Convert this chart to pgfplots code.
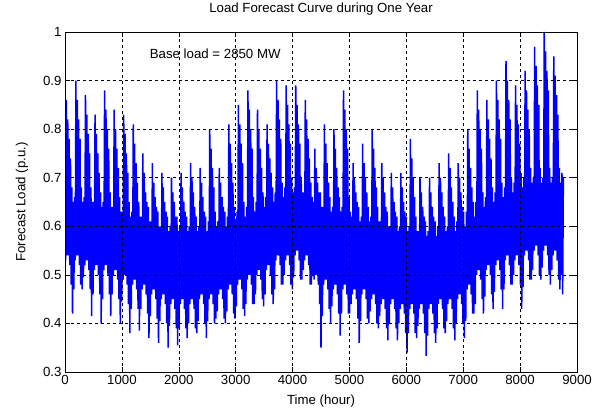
\documentclass[border=0pt]{standalone}
\usepackage{pgfplots}
\pgfplotsset{compat=1.18}
\usepackage{fontspec}
\setmainfont{Liberation Sans}
\begin{document}
\begin{tikzpicture}
\begin{axis}[
    width=512bp, height=340bp, scale only axis,
    xmin=0, xmax=9000, ymin=0.3, ymax=1,
    xtick={0,1000,...,9000},
    ytick={0.3,0.4,0.5,0.6,0.7,0.8,0.9,1},
    scaled ticks=false,
    /pgf/number format/1000 sep={},
    /pgf/number format/assume math mode=true,
    tick label style={font=\fontsize{13.3}{15}\selectfont},
    label style={font=\fontsize{13.3}{15}\selectfont},
    title style={font=\fontsize{13.3}{15}\selectfont, at={(axis description cs:0.5,1.05)}, anchor=center, yshift=0pt},
    xlabel style={at={(axis description cs:0.5,-0.085)}, anchor=center},
    ylabel style={at={(axis description cs:-0.084,0.5)}, anchor=center},
    title={Load Forecast Curve during One Year},
    xlabel={Time (hour)},
    ylabel={Forecast Load (p.u.)},
    tick align=inside, major tick length=5bp,
    tick style={black, line width=0.5bp},
    axis line style={line width=0.6bp},
    grid=major,
    major grid style={black, line width=0.5bp, dash pattern=on 3bp off 3bp},
    axis on top]
% one week per line: daily high and low, a sample every 12 hours
\addplot[blue, line width=1.5bp, no markers] table[header=false, row sep=\\, x expr=\coordindex*12, y index=0] {
0.66\\ 0.53\\ 0.86\\ 0.54\\ 0.82\\ 0.54\\ 0.78\\ 0.52\\ 0.74\\ 0.48\\ 0.68\\ 0.42\\ 0.65\\ 0.47\\
0.66\\ 0.53\\ 0.90\\ 0.54\\ 0.86\\ 0.54\\ 0.82\\ 0.52\\ 0.78\\ 0.48\\ 0.68\\ 0.47\\ 0.65\\ 0.495\\
0.66\\ 0.52\\ 0.87\\ 0.53\\ 0.83\\ 0.53\\ 0.79\\ 0.51\\ 0.75\\ 0.47\\ 0.68\\ 0.415\\ 0.65\\ 0.46\\
0.65\\ 0.51\\ 0.83\\ 0.52\\ 0.79\\ 0.52\\ 0.75\\ 0.50\\ 0.71\\ 0.46\\ 0.67\\ 0.40\\ 0.64\\ 0.45\\
0.65\\ 0.51\\ 0.88\\ 0.52\\ 0.84\\ 0.52\\ 0.80\\ 0.50\\ 0.76\\ 0.46\\ 0.67\\ 0.415\\ 0.64\\ 0.46\\
0.64\\ 0.50\\ 0.84\\ 0.51\\ 0.80\\ 0.51\\ 0.76\\ 0.49\\ 0.72\\ 0.45\\ 0.66\\ 0.40\\ 0.63\\ 0.445\\
0.63\\ 0.49\\ 0.83\\ 0.50\\ 0.79\\ 0.50\\ 0.75\\ 0.48\\ 0.71\\ 0.44\\ 0.65\\ 0.38\\ 0.62\\ 0.43\\
0.63\\ 0.48\\ 0.81\\ 0.49\\ 0.77\\ 0.49\\ 0.73\\ 0.47\\ 0.69\\ 0.43\\ 0.65\\ 0.385\\ 0.62\\ 0.43\\
0.62\\ 0.47\\ 0.75\\ 0.48\\ 0.71\\ 0.48\\ 0.67\\ 0.46\\ 0.65\\ 0.42\\ 0.64\\ 0.37\\ 0.61\\ 0.415\\
0.61\\ 0.46\\ 0.73\\ 0.47\\ 0.69\\ 0.47\\ 0.66\\ 0.45\\ 0.64\\ 0.41\\ 0.63\\ 0.36\\ 0.60\\ 0.405\\
0.60\\ 0.45\\ 0.71\\ 0.46\\ 0.68\\ 0.46\\ 0.65\\ 0.44\\ 0.63\\ 0.40\\ 0.62\\ 0.35\\ 0.59\\ 0.395\\
0.60\\ 0.44\\ 0.70\\ 0.45\\ 0.67\\ 0.45\\ 0.65\\ 0.43\\ 0.62\\ 0.39\\ 0.62\\ 0.355\\ 0.59\\ 0.39\\
0.60\\ 0.44\\ 0.71\\ 0.45\\ 0.68\\ 0.45\\ 0.65\\ 0.43\\ 0.63\\ 0.39\\ 0.62\\ 0.37\\ 0.59\\ 0.40\\
0.60\\ 0.44\\ 0.73\\ 0.45\\ 0.70\\ 0.45\\ 0.67\\ 0.43\\ 0.64\\ 0.39\\ 0.62\\ 0.38\\ 0.59\\ 0.405\\
0.60\\ 0.45\\ 0.72\\ 0.46\\ 0.69\\ 0.46\\ 0.66\\ 0.44\\ 0.63\\ 0.40\\ 0.62\\ 0.37\\ 0.59\\ 0.405\\
0.61\\ 0.45\\ 0.80\\ 0.46\\ 0.76\\ 0.46\\ 0.72\\ 0.44\\ 0.68\\ 0.40\\ 0.63\\ 0.41\\ 0.60\\ 0.425\\
0.61\\ 0.46\\ 0.72\\ 0.47\\ 0.69\\ 0.47\\ 0.66\\ 0.45\\ 0.64\\ 0.41\\ 0.63\\ 0.40\\ 0.60\\ 0.425\\
0.62\\ 0.47\\ 0.81\\ 0.48\\ 0.77\\ 0.48\\ 0.73\\ 0.46\\ 0.69\\ 0.42\\ 0.64\\ 0.41\\ 0.61\\ 0.435\\
0.63\\ 0.48\\ 0.85\\ 0.49\\ 0.81\\ 0.49\\ 0.77\\ 0.47\\ 0.73\\ 0.43\\ 0.65\\ 0.415\\ 0.62\\ 0.44\\
0.64\\ 0.49\\ 0.88\\ 0.50\\ 0.84\\ 0.50\\ 0.80\\ 0.48\\ 0.76\\ 0.44\\ 0.66\\ 0.44\\ 0.63\\ 0.46\\
0.65\\ 0.50\\ 0.84\\ 0.51\\ 0.80\\ 0.51\\ 0.76\\ 0.49\\ 0.72\\ 0.45\\ 0.67\\ 0.435\\ 0.64\\ 0.46\\
0.66\\ 0.51\\ 0.81\\ 0.52\\ 0.77\\ 0.52\\ 0.74\\ 0.50\\ 0.71\\ 0.46\\ 0.68\\ 0.44\\ 0.65\\ 0.47\\
0.67\\ 0.53\\ 0.90\\ 0.54\\ 0.86\\ 0.54\\ 0.82\\ 0.52\\ 0.78\\ 0.48\\ 0.69\\ 0.48\\ 0.66\\ 0.50\\
0.68\\ 0.53\\ 0.89\\ 0.54\\ 0.85\\ 0.54\\ 0.81\\ 0.52\\ 0.77\\ 0.48\\ 0.70\\ 0.47\\ 0.67\\ 0.495\\
0.68\\ 0.54\\ 0.89\\ 0.55\\ 0.85\\ 0.55\\ 0.81\\ 0.53\\ 0.77\\ 0.49\\ 0.70\\ 0.49\\ 0.67\\ 0.51\\
0.67\\ 0.53\\ 0.86\\ 0.54\\ 0.82\\ 0.54\\ 0.78\\ 0.52\\ 0.74\\ 0.48\\ 0.69\\ 0.48\\ 0.66\\ 0.50\\
0.65\\ 0.49\\ 0.76\\ 0.50\\ 0.72\\ 0.50\\ 0.69\\ 0.48\\ 0.67\\ 0.44\\ 0.67\\ 0.35\\ 0.64\\ 0.415\\
0.64\\ 0.48\\ 0.81\\ 0.49\\ 0.77\\ 0.49\\ 0.73\\ 0.47\\ 0.69\\ 0.43\\ 0.66\\ 0.40\\ 0.63\\ 0.435\\
0.64\\ 0.47\\ 0.80\\ 0.48\\ 0.76\\ 0.48\\ 0.72\\ 0.46\\ 0.68\\ 0.42\\ 0.66\\ 0.375\\ 0.63\\ 0.42\\
0.64\\ 0.47\\ 0.88\\ 0.48\\ 0.84\\ 0.48\\ 0.80\\ 0.46\\ 0.76\\ 0.42\\ 0.66\\ 0.42\\ 0.63\\ 0.44\\
0.62\\ 0.46\\ 0.73\\ 0.47\\ 0.70\\ 0.47\\ 0.67\\ 0.45\\ 0.65\\ 0.41\\ 0.64\\ 0.36\\ 0.61\\ 0.405\\
0.62\\ 0.46\\ 0.77\\ 0.47\\ 0.73\\ 0.47\\ 0.70\\ 0.45\\ 0.67\\ 0.41\\ 0.64\\ 0.40\\ 0.61\\ 0.425\\
0.62\\ 0.45\\ 0.80\\ 0.46\\ 0.76\\ 0.46\\ 0.72\\ 0.44\\ 0.68\\ 0.40\\ 0.64\\ 0.39\\ 0.61\\ 0.415\\
0.61\\ 0.44\\ 0.73\\ 0.45\\ 0.70\\ 0.45\\ 0.67\\ 0.43\\ 0.64\\ 0.39\\ 0.63\\ 0.365\\ 0.60\\ 0.40\\
0.60\\ 0.44\\ 0.71\\ 0.45\\ 0.68\\ 0.45\\ 0.65\\ 0.43\\ 0.63\\ 0.39\\ 0.62\\ 0.365\\ 0.59\\ 0.40\\
0.60\\ 0.43\\ 0.71\\ 0.44\\ 0.68\\ 0.44\\ 0.65\\ 0.42\\ 0.63\\ 0.38\\ 0.62\\ 0.34\\ 0.59\\ 0.38\\
0.60\\ 0.43\\ 0.78\\ 0.44\\ 0.74\\ 0.44\\ 0.70\\ 0.42\\ 0.66\\ 0.38\\ 0.62\\ 0.37\\ 0.59\\ 0.395\\
0.59\\ 0.43\\ 0.70\\ 0.44\\ 0.67\\ 0.44\\ 0.64\\ 0.42\\ 0.62\\ 0.38\\ 0.61\\ 0.333\\ 0.58\\ 0.375\\
0.59\\ 0.43\\ 0.70\\ 0.44\\ 0.67\\ 0.44\\ 0.64\\ 0.42\\ 0.62\\ 0.38\\ 0.61\\ 0.36\\ 0.58\\ 0.39\\
0.60\\ 0.44\\ 0.73\\ 0.45\\ 0.70\\ 0.45\\ 0.67\\ 0.43\\ 0.64\\ 0.39\\ 0.62\\ 0.38\\ 0.59\\ 0.405\\
0.60\\ 0.44\\ 0.75\\ 0.45\\ 0.72\\ 0.45\\ 0.68\\ 0.43\\ 0.65\\ 0.39\\ 0.62\\ 0.365\\ 0.59\\ 0.40\\
0.61\\ 0.45\\ 0.73\\ 0.46\\ 0.70\\ 0.46\\ 0.67\\ 0.44\\ 0.64\\ 0.40\\ 0.63\\ 0.37\\ 0.60\\ 0.405\\
0.63\\ 0.47\\ 0.80\\ 0.48\\ 0.76\\ 0.48\\ 0.72\\ 0.46\\ 0.68\\ 0.42\\ 0.65\\ 0.42\\ 0.62\\ 0.44\\
0.65\\ 0.50\\ 0.88\\ 0.51\\ 0.84\\ 0.51\\ 0.80\\ 0.49\\ 0.76\\ 0.45\\ 0.67\\ 0.42\\ 0.64\\ 0.455\\
0.66\\ 0.51\\ 0.86\\ 0.52\\ 0.82\\ 0.52\\ 0.78\\ 0.50\\ 0.74\\ 0.46\\ 0.68\\ 0.43\\ 0.65\\ 0.465\\
0.67\\ 0.52\\ 0.90\\ 0.53\\ 0.86\\ 0.53\\ 0.82\\ 0.51\\ 0.78\\ 0.47\\ 0.69\\ 0.43\\ 0.66\\ 0.47\\
0.68\\ 0.53\\ 0.94\\ 0.54\\ 0.90\\ 0.54\\ 0.86\\ 0.52\\ 0.82\\ 0.48\\ 0.70\\ 0.48\\ 0.67\\ 0.50\\
0.69\\ 0.53\\ 0.89\\ 0.54\\ 0.85\\ 0.54\\ 0.81\\ 0.52\\ 0.77\\ 0.48\\ 0.71\\ 0.43\\ 0.68\\ 0.475\\
0.70\\ 0.54\\ 0.92\\ 0.55\\ 0.88\\ 0.55\\ 0.84\\ 0.53\\ 0.80\\ 0.49\\ 0.72\\ 0.49\\ 0.69\\ 0.51\\
0.70\\ 0.55\\ 0.97\\ 0.56\\ 0.93\\ 0.56\\ 0.89\\ 0.54\\ 0.85\\ 0.50\\ 0.72\\ 0.49\\ 0.69\\ 0.515\\
0.70\\ 0.55\\ 1.00\\ 0.56\\ 0.96\\ 0.56\\ 0.92\\ 0.54\\ 0.88\\ 0.50\\ 0.72\\ 0.48\\ 0.69\\ 0.51\\
0.70\\ 0.54\\ 0.95\\ 0.55\\ 0.91\\ 0.55\\ 0.87\\ 0.53\\ 0.83\\ 0.49\\ 0.72\\ 0.47\\ 0.69\\ 0.50\\
0.71\\ 0.46\\ 0.70\\
};
\node[anchor=west, font=\fontsize{13.3}{15}\selectfont] at (axis cs:1430,0.955) {Base load = 2850 MW};
\end{axis}
\pgfresetboundingbox
\path ([shift={(-65bp,-41bp)}]current axis.south west) rectangle ([shift={(33bp,32bp)}]current axis.north east);
\end{tikzpicture}
\end{document}
